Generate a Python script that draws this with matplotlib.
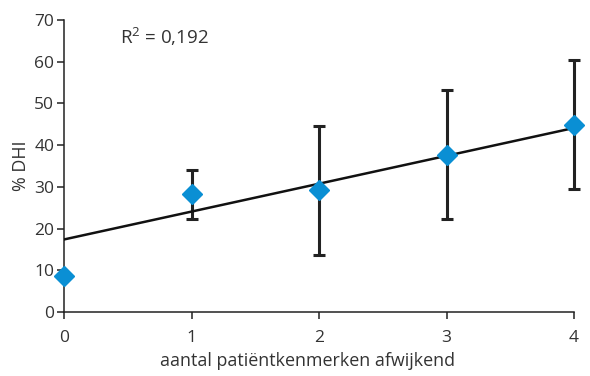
import numpy as np
import matplotlib.pyplot as plt

plt.rcParams['font.family'] = ['Open Sans', 'DejaVu Sans']
plt.rcParams['mathtext.fontset'] = 'custom'
plt.rcParams['mathtext.rm'] = 'Open Sans'

# data
x = [0, 1, 2, 3, 4]
dhi = [8.6, 28.3, 29.2, 37.6, 44.9]
err_low = [np.nan, 22.2, 13.7, 22.2, 29.5]
err_high = [np.nan, 34.0, 44.7, 53.1, 60.4]
fit_intercept = 17.4
fit_slope = 6.68
r2_label = r'$\mathregular{R^2}$ = 0,192'

fig = plt.figure(figsize=(5.9, 3.76), dpi=100)
ax = fig.add_axes([0.1085, 0.170, 0.8645, 0.777])

xs = np.array(x, dtype=float)
ys = np.array(dhi)
lo = np.nan_to_num(ys - np.array(err_low))
hi = np.nan_to_num(np.array(err_high) - ys)

ax.errorbar(xs[1:], ys[1:], yerr=[lo[1:], hi[1:]], fmt='none', ecolor='#222222',
            elinewidth=2.2, capsize=4, capthick=2.2, zorder=2, clip_on=False)
xf = np.array([0, 4])
ax.plot(xf, fit_intercept + fit_slope * xf, color='#111111', lw=1.8, zorder=3)
ax.plot(xs, ys, linestyle='none', marker='D', markersize=10, color='#0a8fd4',
        markeredgecolor='#0a8fd4', zorder=4, clip_on=False)

ax.set_xlim(0, 4)
ax.set_ylim(0, 70)
ax.set_xticks(range(5))
ax.set_yticks(range(0, 71, 10))
for s in ['top', 'right']:
    ax.spines[s].set_visible(False)
for s in ['left', 'bottom']:
    ax.spines[s].set_color('#222222')
    ax.spines[s].set_linewidth(1.1)
ax.tick_params(direction='out', length=5, width=1.1, colors='#222222',
               labelcolor='#333333', labelsize=12.5)
ax.tick_params(axis='x', pad=8)
ax.tick_params(axis='y', pad=2)
ax.set_xlabel('aantal patiëntkenmerken afwijkend', fontsize=12.9, color='#333333')
ax.xaxis.set_label_coords(0.478, -0.135)
ax.set_ylabel('% DHI', fontsize=12.9, color='#333333', labelpad=3)
ax.text(0.44, 66, r2_label, fontsize=13.5, color='#333333', va='center')

fig.savefig('out.png', dpi=100)
